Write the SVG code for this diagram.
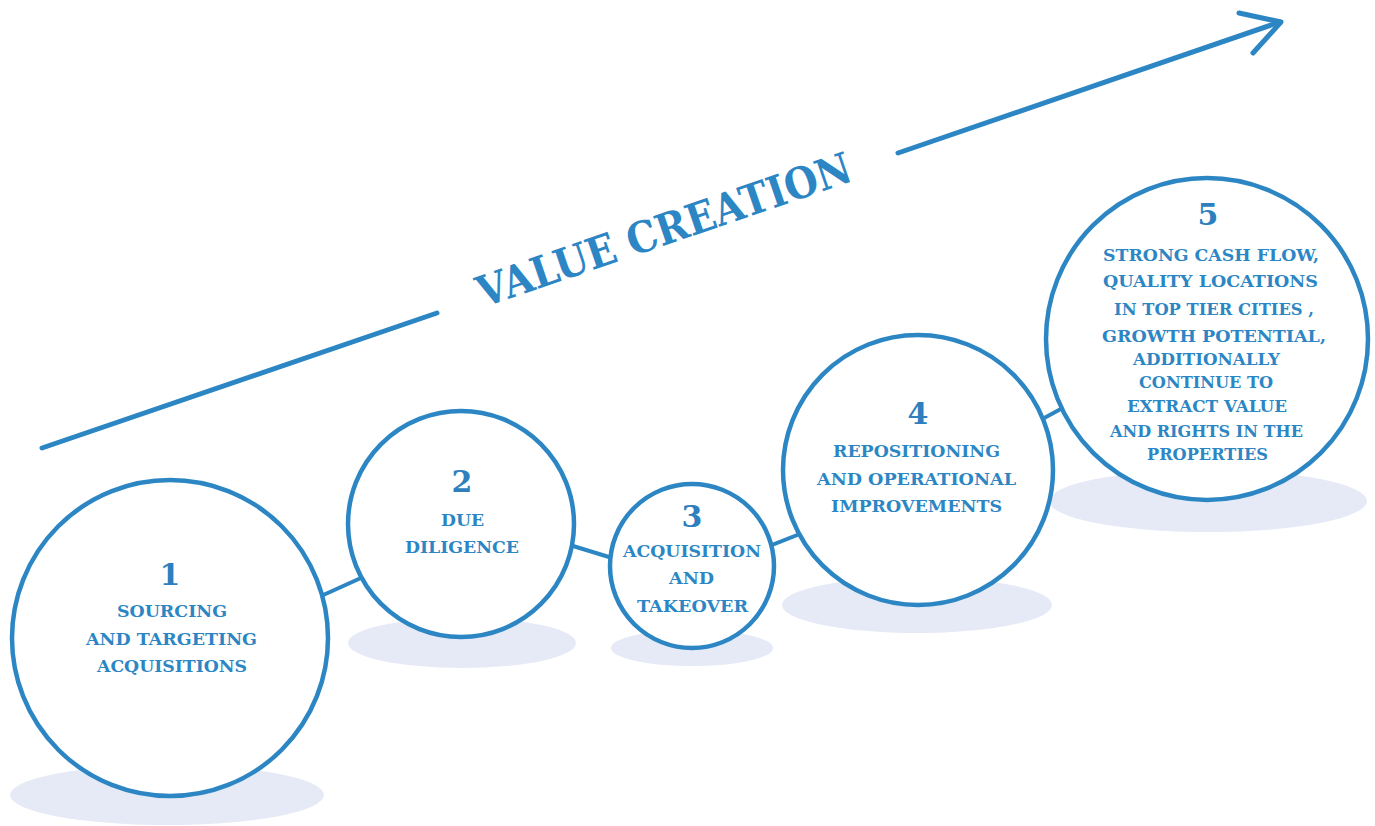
<svg xmlns="http://www.w3.org/2000/svg" width="1375" height="826" viewBox="0 0 1375 826">
<style>
.shadow{fill:#E5EAF6;}
.ring{fill:#FFFFFF;stroke:#2D86C4;stroke-width:4.5;}
.conn{stroke:#2D86C4;stroke-width:4;fill:none;}
.arrow{stroke:#2D86C4;stroke-width:5;fill:none;stroke-linecap:round;stroke-linejoin:round;}
.num{font-family:"DejaVu Serif","Liberation Serif",serif;font-weight:bold;font-size:30px;fill:#2D7FBE;text-anchor:middle;}
.lbl{font-family:"DejaVu Serif","Liberation Serif",serif;font-weight:bold;font-size:17.5px;fill:#2D86C4;text-anchor:middle;}
.title{font-family:"DejaVu Serif","Liberation Serif",serif;font-weight:bold;font-size:43px;fill:#2D86C4;text-anchor:middle;}
</style>
<rect width="1375" height="826" fill="#FFFFFF"/>
<g id="value-arrow">
<line class="arrow" x1="42" y1="448" x2="437" y2="313"/>
<line class="arrow" x1="898" y1="153" x2="1280" y2="22"/>
<polyline class="arrow" points="1239,13 1281,22 1253,53"/>
<text class="title" x="669" y="244" transform="rotate(-18.9 669 244)" textLength="393" lengthAdjust="spacingAndGlyphs">VALUE CREATION</text>
</g>
<g id="shadows">
<ellipse class="shadow" cx="167" cy="795" rx="157" ry="30"/>
<ellipse class="shadow" cx="462" cy="643" rx="114" ry="25"/>
<ellipse class="shadow" cx="692" cy="648" rx="81" ry="18"/>
<ellipse class="shadow" cx="917" cy="605" rx="135" ry="28"/>
<ellipse class="shadow" cx="1208" cy="501" rx="159" ry="31"/>
</g>
<g id="connectors">
<line class="conn" x1="310" y1="601" x2="372" y2="573"/>
<line class="conn" x1="560" y1="542" x2="622" y2="561"/>
<line class="conn" x1="762" y1="549" x2="810" y2="530"/>
<line class="conn" x1="1035" y1="423" x2="1070" y2="404"/>
</g>
<g id="node1">
<circle class="ring" cx="170" cy="638" r="158"/>
<text class="num" x="170" y="585">1</text>
<text class="lbl" x="172" y="617" textLength="110" lengthAdjust="spacingAndGlyphs">SOURCING</text>
<text class="lbl" x="171.5" y="645" textLength="171" lengthAdjust="spacingAndGlyphs">AND TARGETING</text>
<text class="lbl" x="172" y="672" textLength="150" lengthAdjust="spacingAndGlyphs">ACQUISITIONS</text>
</g>
<g id="node2">
<circle class="ring" cx="461" cy="524" r="113"/>
<text class="num" x="462" y="492">2</text>
<text class="lbl" x="462.5" y="526" textLength="43" lengthAdjust="spacingAndGlyphs">DUE</text>
<text class="lbl" x="462" y="553" textLength="114" lengthAdjust="spacingAndGlyphs">DILIGENCE</text>
</g>
<g id="node3">
<circle class="ring" cx="692" cy="566" r="82"/>
<text class="num" x="692" y="527">3</text>
<text class="lbl" x="692" y="557" textLength="138" lengthAdjust="spacingAndGlyphs">ACQUISITION</text>
<text class="lbl" x="691.5" y="584" textLength="45" lengthAdjust="spacingAndGlyphs">AND</text>
<text class="lbl" x="692.5" y="612" textLength="111" lengthAdjust="spacingAndGlyphs">TAKEOVER</text>
</g>
<g id="node4">
<circle class="ring" cx="918" cy="470" r="135"/>
<text class="num" x="918" y="424">4</text>
<text class="lbl" x="916.5" y="457" textLength="167" lengthAdjust="spacingAndGlyphs">REPOSITIONING</text>
<text class="lbl" x="916.5" y="485" textLength="199" lengthAdjust="spacingAndGlyphs">AND OPERATIONAL</text>
<text class="lbl" x="916.5" y="512" textLength="171" lengthAdjust="spacingAndGlyphs">IMPROVEMENTS</text>
</g>
<g id="node5">
<circle class="ring" cx="1207" cy="339" r="161"/>
<text class="num" x="1208" y="225">5</text>
<text class="lbl" x="1211" y="261" textLength="216" lengthAdjust="spacingAndGlyphs">STRONG CASH FLOW,</text>
<text class="lbl" x="1210.5" y="287" textLength="215" lengthAdjust="spacingAndGlyphs">QUALITY LOCATIONS</text>
<text class="lbl" x="1214" y="315" textLength="200" lengthAdjust="spacingAndGlyphs">IN TOP TIER CITIES ,</text>
<text class="lbl" x="1214" y="342" textLength="224" lengthAdjust="spacingAndGlyphs">GROWTH POTENTIAL,</text>
<text class="lbl" x="1206.5" y="365" textLength="147" lengthAdjust="spacingAndGlyphs">ADDITIONALLY</text>
<text class="lbl" x="1206" y="388" textLength="134" lengthAdjust="spacingAndGlyphs">CONTINUE TO</text>
<text class="lbl" x="1207" y="412" textLength="160" lengthAdjust="spacingAndGlyphs">EXTRACT VALUE</text>
<text class="lbl" x="1206.5" y="437" textLength="193" lengthAdjust="spacingAndGlyphs">AND RIGHTS IN THE</text>
<text class="lbl" x="1207.5" y="460" textLength="121" lengthAdjust="spacingAndGlyphs">PROPERTIES</text>
</g>
</svg>
